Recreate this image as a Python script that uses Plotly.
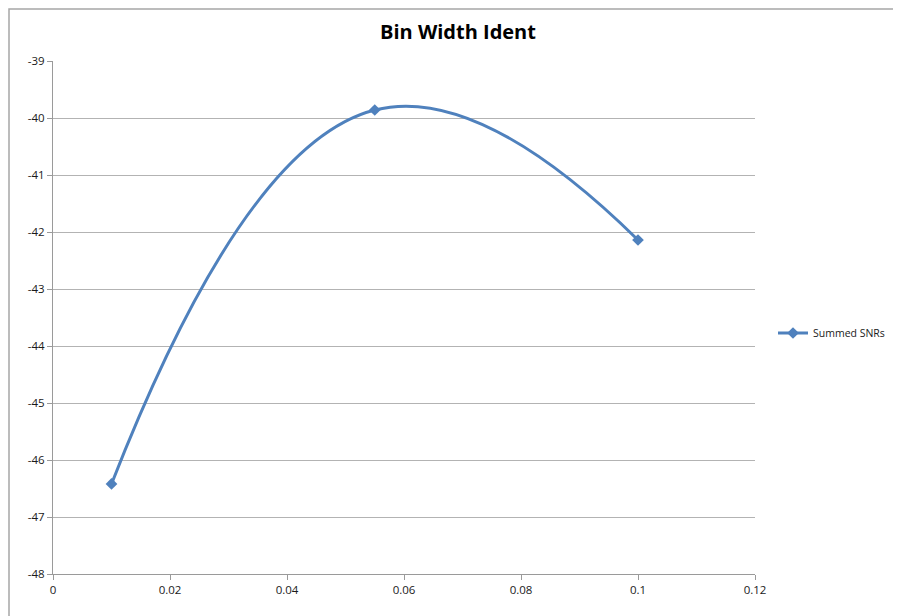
import plotly.graph_objects as go

bin_width = [0.01, 0.055, 0.1]
summed_snrs = [-46.42, -39.86, -42.14]
x_ticks = [0, 0.02, 0.04, 0.06, 0.08, 0.1, 0.12]
x_tick_labels = ["0", "0.02", "0.04", "0.06", "0.08", "0.1", "0.12"]
y_ticks = [-48, -47, -46, -45, -44, -43, -42, -41, -40, -39]
y_tick_labels = [str(v) for v in y_ticks]

W, H = 901, 616
OFF = 8  # default page body margin
# target plot area in the screenshot: x 53..755, y 61..574
L = 53 - OFF
T = 61 - OFF
R = W + OFF - 755
B = H + OFF - 574
pw, ph = W - L - R, H - T - B

def px_x(x):  # screenshot px -> paper x
    return (x - OFF - L) / pw

def px_y(y):  # screenshot px -> paper y
    return (H - B - (y - OFF)) / ph

FONT = "Open Sans, Liberation Sans, sans-serif"

fig = go.Figure()
fig.add_trace(go.Scatter(
    x=bin_width, y=summed_snrs, mode="lines+markers", name="Summed SNRs",
    line=dict(color="#4F81BD", width=3, shape="spline", smoothing=1.3),
    marker=dict(symbol="diamond", size=9, color="#4F81BD"),
))

axis_common = dict(
    showline=True, linecolor="#9a9a9a", linewidth=1,
    ticks="outside", ticklen=5, tickcolor="#9a9a9a",
    tickfont=dict(family=FONT, size=11.5, color="#1a1a1a"),
    zeroline=False,
)
fig.update_xaxes(range=[0, 0.12], tickvals=x_ticks, ticktext=x_tick_labels,
                 showgrid=False, automargin=False, **axis_common)
fig.update_yaxes(range=[-48, -39], tickvals=y_ticks, ticktext=y_tick_labels,
                 showgrid=True, gridcolor="#b3b3b3", gridwidth=1, automargin=False,
                 **axis_common)

# outer chart frame (as far up/left as the page allows)
fig.add_shape(type="rect", xref="paper", yref="paper",
              x0=px_x(OFF + 1), x1=px_x(W + 40), y0=px_y(H + 40), y1=px_y(OFF + 1),
              line=dict(color="#a6a6a6", width=1.5), layer="below")

fig.update_layout(
    width=W, height=H,
    margin=dict(l=L, r=R, t=T, b=B, autoexpand=False),
    paper_bgcolor="white", plot_bgcolor="white",
    title=dict(text="<b>Bin Width Ident</b>", x=(458 - OFF) / W, xanchor="center",
               y=1 - (32 - OFF) / H, yanchor="middle",
               font=dict(family=FONT, size=20, color="#000")),
    showlegend=True,
    legend=dict(x=px_x(773), xanchor="left", y=px_y(333), yanchor="middle",
                font=dict(family=FONT, size=10.5, color="#1a1a1a"),
                bgcolor="rgba(0,0,0,0)", tracegroupgap=0),
)

fig.write_html("out.html", config={"displayModeBar": False})
